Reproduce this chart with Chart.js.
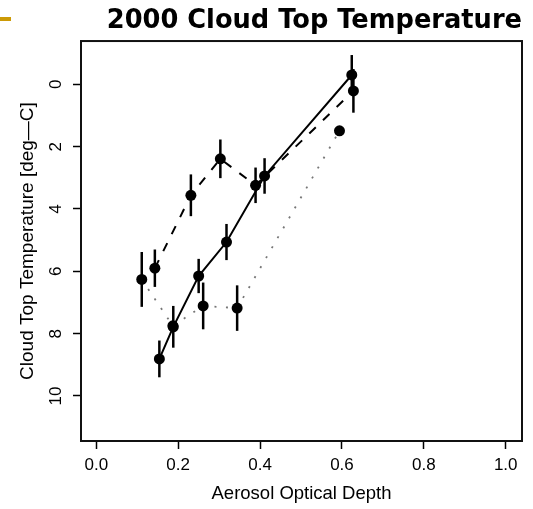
<!DOCTYPE html>
<html><head><meta charset="utf-8">
<script src="https://cdn.jsdelivr.net/npm/chart.js@4.4.1/dist/chart.umd.min.js"></script>
<style>
html,body{margin:0;padding:0;background:#fff;}
#wrap{position:relative;width:533px;height:509px;}
#bullet{position:absolute;left:0;top:17px;width:11px;height:4px;background:#CC9A06;}
</style></head><body>
<div id="wrap"><canvas id="c" width="533" height="509"></canvas><div id="bullet"></div></div>
<script>
// ---- data ----
const xTicks = [0, 0.2, 0.4, 0.6, 0.8, 1.0];
const yTicks = [0, 2, 4, 6, 8, 10];

const solidX   = [0.154, 0.188, 0.250, 0.318, 0.411, 0.624];
const solidY   = [8.81, 7.78, 6.15, 5.06, 2.94, -0.30];
const solidErr = [0.59, 0.67, 0.55, 0.58, 0.57, 0.64];

const dashedX   = [0.143, 0.231, 0.303, 0.389, 0.628];
const dashedY   = [5.90, 3.56, 2.39, 3.24, 0.21];
const dashedErr = [0.60, 0.67, 0.62, 0.57, 0.70];

const dottedX   = [0.111, 0.187, 0.261, 0.344, 0.594];
const dottedY   = [6.26, 7.75, 7.11, 7.18, 1.49];
const dottedErr = [0.88, 0, 0.75, 0.73, 0];

const toPts = (xs, ys) => xs.map((x, i) => ({x: x, y: ys[i]}));

const errPlugin = {
  id: 'errbars',
  afterDatasetsDraw(chart) {
    const xs = chart.scales.x, ys = chart.scales.y, ctx = chart.ctx;
    ctx.save();
    ctx.strokeStyle = '#000';
    ctx.lineWidth = 2.5;
    chart.data.datasets.forEach(ds => {
      (ds.errorBars || []).forEach((e, i) => {
        if (!e) return;
        const p = ds.data[i];
        const px = xs.getPixelForValue(p.x);
        ctx.beginPath();
        ctx.moveTo(px, ys.getPixelForValue(p.y - e));
        ctx.lineTo(px, ys.getPixelForValue(p.y + e));
        ctx.stroke();
      });
    });
    ctx.restore();
  }
};
const boxPlugin = {
  id: 'box',
  afterDraw(chart) {
    const {ctx, chartArea: a} = chart;
    ctx.save();
    ctx.strokeStyle = '#111';
    ctx.lineWidth = 2;
    ctx.strokeRect(a.left, a.top, a.right - a.left, a.bottom - a.top);
    ctx.restore();
  }
};

const base = {showLine: true, borderColor: '#000', pointRadius: 5.5, pointHoverRadius: 5.5,
  pointBackgroundColor: '#000', pointBorderWidth: 0, fill: false, tension: 0};

new Chart(document.getElementById('c'), {
  type: 'scatter',
  data: {
    datasets: [
      Object.assign({}, base, {label: 'solid', data: toPts(solidX, solidY), errorBars: solidErr, borderWidth: 2}),
      Object.assign({}, base, {label: 'dashed', data: toPts(dashedX, dashedY), errorBars: dashedErr, borderWidth: 2, borderDash: [9, 10]}),
      Object.assign({}, base, {label: 'dotted', data: toPts(dottedX, dottedY), errorBars: dottedErr, borderWidth: 1.8, borderColor: '#777', borderDash: [2, 9.5]})
    ]
  },
  options: {
    responsive: false,
    animation: false,
    devicePixelRatio: 1,
    layout: {padding: {left: 0, right: 11, top: 0, bottom: 0}},
    plugins: {
      legend: {display: false},
      tooltip: {enabled: false},
      title: {display: true, text: '2000 Cloud Top Temperature', fullSize: false, align: 'end', color: '#000',
        font: {family: 'DejaVu Sans', weight: 'bold', size: 25.7, lineHeight: 1.2}, padding: {top: 5.5, bottom: 4.7}}
    },
    scales: {
      x: {
        type: 'linear', min: -0.0374, max: 1.0398,
        afterBuildTicks: s => { s.ticks = xTicks.map(v => ({value: v})); },
        afterFit: s => { s.height = 68; },
        ticks: {color: '#000', font: {family: 'Liberation Sans', size: 17}, padding: 6, autoSkip: false,
          maxRotation: 0, callback: v => Number(v).toFixed(1)},
        grid: {drawOnChartArea: false, drawTicks: true, tickLength: 8, tickWidth: 1.5, tickColor: '#000'},
        border: {display: false},
        title: {display: true, text: 'Aerosol Optical Depth', color: '#000',
          font: {family: 'Liberation Sans', size: 18.5, lineHeight: 1.2}, padding: {top: 0, bottom: 4}}
      },
      y: {
        type: 'linear', reverse: true, min: -1.389, max: 11.444,
        afterBuildTicks: s => { s.ticks = yTicks.map(v => ({value: v})); },
        afterFit: s => { s.width = 81; },
        ticks: {color: '#000', font: {family: 'Liberation Sans', size: 17}, padding: 7, autoSkip: false,
          minRotation: 90, maxRotation: 90, crossAlign: 'center', callback: v => String(v)},
        grid: {drawOnChartArea: false, drawTicks: true, tickLength: 8, tickWidth: 1.5, tickColor: '#000'},
        border: {display: false},
        title: {display: true, text: 'Cloud Top Temperature [deg\u2014C]', color: '#000',
          font: {family: 'Liberation Sans', size: 19, lineHeight: 1.2}, padding: {top: 16.5, bottom: 0}}
      }
    }
  },
  plugins: [errPlugin, boxPlugin]
});
</script>
</body></html>
